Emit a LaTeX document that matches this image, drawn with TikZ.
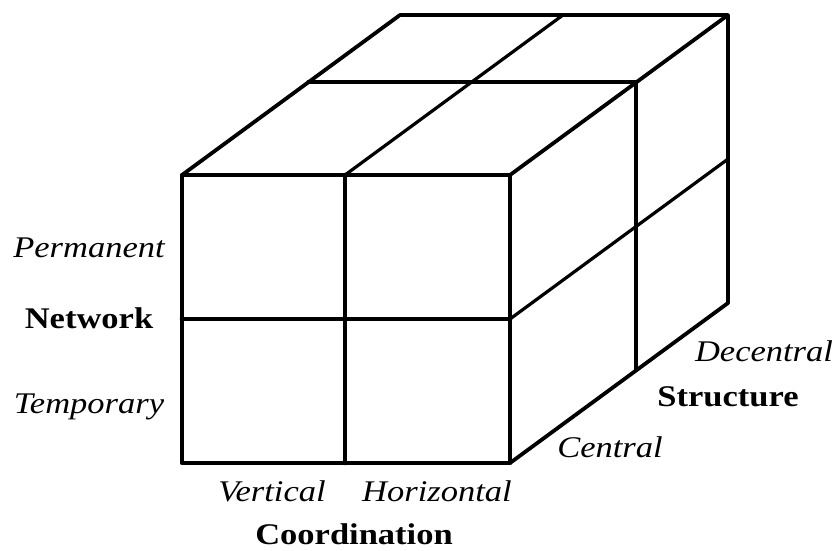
\documentclass[tikz,border=0pt]{standalone}
\usepackage{fontspec}
\setmainfont{Liberation Serif}[FakeStretch=1.15]
\usetikzlibrary{positioning}

\begin{document}
\begin{tikzpicture}[
    x=1pt, y=-1pt,
    front/.style={line width=4.6pt, line cap=round, line join=round},
    edge/.style={line width=3.8pt, line cap=round, line join=round},
    inner/.style={line width=3.2pt, line cap=round},
    dim/.style={font=\fontsize{30}{32}\selectfont\bfseries, anchor=base, inner sep=0pt},
    level/.style={font=\fontsize{30}{32}\selectfont\itshape, anchor=base, inner sep=0pt}
]
  \useasboundingbox (0,0) rectangle (838,550);

  % front face corners and middles
  \coordinate (ftl) at (182,175);
  \coordinate (ftr) at (510,175);
  \coordinate (fbr) at (510,463);
  \coordinate (fbl) at (182,463);
  \coordinate (ftm) at (345,175);
  \coordinate (fbm) at (345,463);
  \coordinate (flm) at (182,319);
  \coordinate (frm) at (510,319);
  % back corners and middles
  \coordinate (btl) at (400,15);
  \coordinate (btr) at (728,15);
  \coordinate (bbr) at (728,303);
  \coordinate (btm) at (563,15);
  \coordinate (brm) at (728,159);
  % middle depth
  \coordinate (mtl) at (308,82);
  \coordinate (mtr) at (636,82);
  \coordinate (mbr) at (636,370);

  % back outline
  \draw[edge] (ftl) -- (btl) -- (btr) -- (bbr) -- (fbr);
  \draw[edge] (ftr) -- (btr);
  % top and right face dividers
  \draw[inner] (ftm) -- (btm);
  \draw[inner] (mtl) -- (mtr) -- (mbr);
  \draw[inner] (frm) -- (brm);
  % front face
  \draw[front] (ftl) rectangle (fbr);
  \draw[front] (ftm) -- (fbm);
  \draw[front] (flm) -- (frm);

  % labels
  \node[level] (perm) at (89,257) {Permanent};
  \node[dim] (net) at (89,328) {Network};
  \node[level] (temp) at (89,413) {Temporary};
  \node[level] (vert) at (272,501) {Vertical};
  \node[level] (hor) at (437,501) {Horizontal};
  \node[dim] (coord) at (354,544) {Coordination};
  \node[level] (cent) at (610,457) {Central};
  \node[dim] (struct) at (728,406) {Structure};
  \node[level] (decent) at (764,361) {Decentral};
\end{tikzpicture}
\end{document}
